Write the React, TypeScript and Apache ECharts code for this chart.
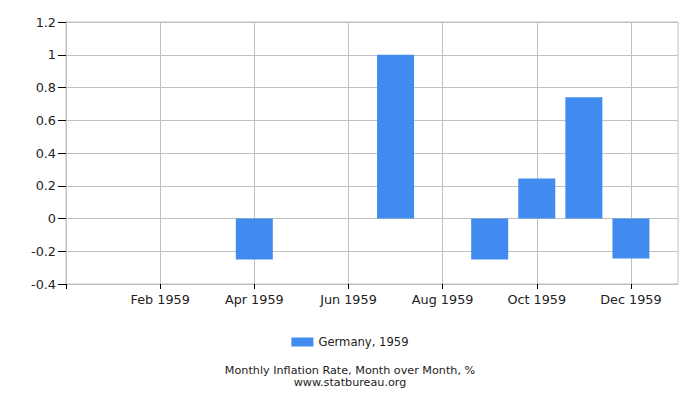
import { useEffect, useRef } from 'react';
import * as echarts from 'echarts';

// Padding slots at both ends keep Jan..Dec off the plot edges.
const months = ['Jan 1959', 'Feb 1959', 'Mar 1959', 'Apr 1959', 'May 1959', 'Jun 1959', 'Jul 1959', 'Aug 1959', 'Sep 1959', 'Oct 1959', 'Nov 1959', 'Dec 1959'];
const inflation = [0, 0, 0, -0.25, 0, 0, 1.0, 0, -0.25, 0.245, 0.74, -0.245];
const seriesName = 'Germany, 1959';
const yMin = -0.4;
const yMax = 1.2;
const yStep = 0.2;

const FONT = '"DejaVu Sans", sans-serif';

export default function App() {
  const el = useRef<HTMLDivElement>(null);

  useEffect(() => {
    if (!el.current) return;
    const chart = echarts.init(el.current, undefined, { renderer: 'svg' });
    const cats = ['', ...months, ''];
    const data = [null, ...inflation, null];
    chart.setOption({
      animation: false,
      textStyle: { fontFamily: FONT },
      grid: { left: 66, right: 22, top: 22, bottom: 116, show: true, borderColor: '#c0c0c0', borderWidth: 1 },
      legend: {
        top: 331,
        left: 'center',
        icon: 'rect',
        itemWidth: 22,
        itemHeight: 9,
        itemGap: 4,
        textStyle: { color: '#222', fontSize: 11.6, fontFamily: FONT },
        data: [seriesName],
      },
      title: [
        {
          text: 'Monthly Inflation Rate, Month over Month, %',
          left: 'center',
          top: 364.5,
          padding: 0,
          textStyle: { color: '#222', fontSize: 11.2, lineHeight: 12, fontWeight: 'normal', fontFamily: FONT },
        },
        {
          text: 'www.statbureau.org',
          left: 'center',
          top: 376.5,
          padding: 0,
          textStyle: { color: '#222', fontSize: 11.2, lineHeight: 12, fontWeight: 'normal', fontFamily: FONT },
        },
      ],
      xAxis: {
        type: 'category',
        data: cats,
        boundaryGap: false,
        axisLine: { show: true, onZero: false, lineStyle: { color: '#c0c0c0' } },
        axisTick: { show: true, interval: 1, length: 5, lineStyle: { color: '#000' } },
        axisLabel: { interval: 1, margin: 9, color: '#222', fontSize: 12.8, fontFamily: FONT },
        splitLine: { show: true, interval: 1, lineStyle: { color: '#c0c0c0' } },
      },
      yAxis: {
        type: 'value',
        min: yMin,
        max: yMax,
        interval: yStep,
        axisLine: { show: true, lineStyle: { color: '#c0c0c0' } },
        axisTick: { show: true, length: 8, lineStyle: { color: '#000' } },
        axisLabel: {
          margin: 10,
          color: '#222',
          fontSize: 12.8,
          fontFamily: FONT,
          formatter: (v: number) => String(Math.round(v * 10) / 10),
        },
        splitLine: { show: true, lineStyle: { color: '#c0c0c0' } },
      },
      series: [
        {
          name: seriesName,
          type: 'bar',
          barWidth: 37,
          itemStyle: { color: '#418bf0' },
          data,
        },
      ],
    });
    return () => chart.dispose();
  }, []);

  return <div ref={el} style={{ width: 700, height: 400, margin: -8 }} />;
}
